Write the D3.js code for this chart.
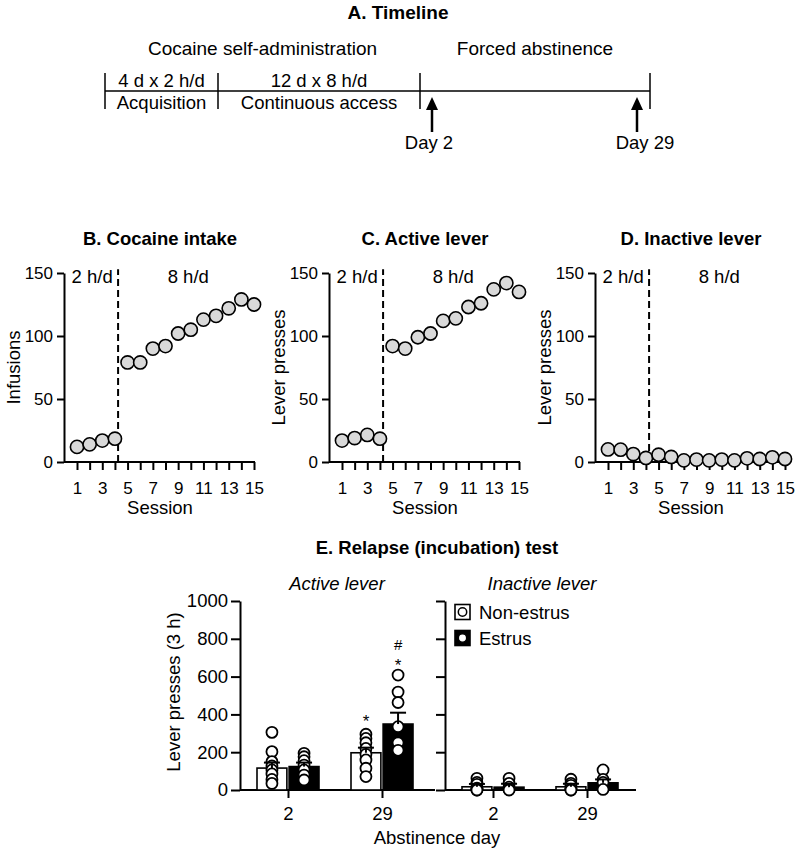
<!DOCTYPE html>
<html>
<head>
<meta charset="utf-8">
<script src="https://cdn.jsdelivr.net/npm/d3@7"></script>
<style>
    body { margin: 0; background: #fff; }
    svg text { font-family: "Liberation Sans", Arial, sans-serif; fill: #000; }
    .axis path, .axis line { stroke: #000; stroke-width: 2px; }
</style>
</head>
<body>
<svg id="fig" width="800" height="853"></svg>
<script>
// ---- data: self-administration sessions (panels B-D)
const sessions = [1, 2, 3, 4, 5, 6, 7, 8, 9, 10, 11, 12, 13, 14, 15];
const sessionLabels = [1, 3, 5, 7, 9, 11, 13, 15];
const sessionYTicks = [0, 50, 100, 150];
const cocaineIntake = [12, 14, 17, 18.5, 79, 79, 90, 92, 102, 105, 113, 116, 122, 129, 125];
const activeLever = [17, 19, 21.5, 18.5, 92, 90, 99, 102, 112, 114, 123, 126, 137, 142, 135];
const inactiveLever = [10, 9.8, 6.3, 3.2, 5.8, 4, 1.3, 1.9, 1.3, 1.9, 1.3, 2.9, 2.4, 3.7, 2.4];
const accessLabels = ['2 h/d', '8 h/d'];
const accessLabelSession = [2.2, 9.8];
const accessSwitch = 4.25;

// ---- data: relapse test (panel E), order = abstinence days
const days = [2, 29];
const groups = ['Non-estrus', 'Estrus'];
const relapseYTicks = [0, 200, 400, 600, 800, 1000];
const activeMeanNon = [116, 197];
const activeMeanEst = [124, 349];
const activeSemNon = [29, 27];
const activeSemEst = [21, 60];
const activePointsNon = [
    [305, 203, 150, 127, 106, 85, 56, 35],
    [295, 273, 250, 220, 189, 159, 115, 71]
];
const activePointsEst = [
    [194, 176, 155, 132, 106, 79, 53],
    [608, 518, 463, 335, 250, 210]
];
const inactiveMeanNon = [17, 17];
const inactiveMeanEst = [15, 38];
const inactiveSemNon = [15, 16];
const inactiveSemEst = [18, 18];
const inactivePointsNon = [
    [62, 40, 30, 10, 3, 0, 0],
    [57, 35, 25, 5, 0, 0]
];
const inactivePointsEst = [
    [62, 35, 15, 3, 0],
    [106, 56, 40, 3]
];
// significance marks: [day, group, symbol, baseline value]
const sigMarks = [
    [29, 'Non-estrus', '*', 333],
    [29, 'Estrus', '*', 630],
    [29, 'Estrus', '#', 740]
];

const svg = d3.select('#fig');

function text(g, x, y, str, size, opts = {}) {
    return g.append('text')
        .attr('x', x)
        .attr('y', y)
        .attr('text-anchor', opts.anchor || 'middle')
        .attr('font-size', size)
        .attr('font-weight', opts.bold ? 'bold' : null)
        .attr('font-style', opts.italic ? 'italic' : null)
        .text(str);
}

// ================= A. Timeline =================
const tl = svg.append('g');
const tlY = 91;
const tlEdges = [105, 218, 420, 650];
text(tl, 398, 19, 'A. Timeline', 19, { bold: true });
text(tl, (tlEdges[0] + tlEdges[2]) / 2, 55, 'Cocaine self-administration', 19);
text(tl, (tlEdges[2] + tlEdges[3]) / 2, 55, 'Forced abstinence', 19);
tl.append('line')
    .attr('x1', tlEdges[0]).attr('x2', tlEdges[3])
    .attr('y1', tlY).attr('y2', tlY)
    .attr('stroke', '#000').attr('stroke-width', 1.5);
tlEdges.forEach(x => {
    tl.append('line')
        .attr('x1', x).attr('x2', x)
        .attr('y1', 73).attr('y2', 109)
        .attr('stroke', '#000').attr('stroke-width', 1.5);
});
const phases = [['4 d x 2 h/d', 'Acquisition'], ['12 d x 8 h/d', 'Continuous access']];
phases.forEach((p, i) => {
    const cx = (tlEdges[i] + tlEdges[i + 1]) / 2;
    text(tl, cx, 87, p[0], 18.5);
    text(tl, cx, 109, p[1], 18.5);
});
[[432, 'Day 2', 429], [637, 'Day 29', 645]].forEach(a => {
    tl.append('line')
        .attr('x1', a[0]).attr('x2', a[0])
        .attr('y1', 107).attr('y2', 132)
        .attr('stroke', '#000').attr('stroke-width', 2.5);
    tl.append('path')
        .attr('d', `M${a[0]},97 L${a[0] + 6},110 L${a[0] - 6},110 Z`)
        .attr('fill', '#000');
    text(tl, a[2], 149, a[1], 18.5);
});

// ================= B-D. Session panels =================
function sessionPanel(left, title, yLabel, values) {
    const g = svg.append('g');
    const x = d3.scaleLinear().domain([1, 15]).range([left + 13, left + 190]);
    const y = d3.scaleLinear().domain([0, 150]).range([462, 273]);

    text(g, left + 96, 245, title, 18.5, { bold: true });

    const ya = g.append('g')
        .attr('class', 'axis')
        .attr('transform', `translate(${left},0)`)
        .call(d3.axisLeft(y).tickValues(sessionYTicks).tickSize(7).tickSizeOuter(0).tickPadding(4));
    ya.attr('font-family', null).attr('font-size', 17);

    const xa = g.append('g')
        .attr('class', 'axis')
        .attr('transform', 'translate(0,462)')
        .call(d3.axisBottom(x).tickValues(sessions).tickSize(8).tickPadding(12)
            .tickFormat(d => sessionLabels.includes(d) ? d : ''));
    xa.attr('font-family', null).attr('font-size', 17);
    xa.select('.domain').remove();
    g.append('line')
        .attr('x1', left).attr('x2', left + 191)
        .attr('y1', 462).attr('y2', 462)
        .attr('stroke', '#000').attr('stroke-width', 2);

    g.append('text')
        .attr('transform', `translate(${left - 44},${(y(0) + y(150)) / 2}) rotate(-90)`)
        .attr('text-anchor', 'middle')
        .attr('font-size', 18.5)
        .text(yLabel);
    text(g, left + 96, 514, 'Session', 18.5);

    g.append('line')
        .attr('x1', x(accessSwitch)).attr('x2', x(accessSwitch))
        .attr('y1', y(0)).attr('y2', y(153))
        .attr('stroke', '#000').attr('stroke-width', 2)
        .attr('stroke-dasharray', '7,4');
    accessLabels.forEach((lab, i) => {
        text(g, x(accessLabelSession[i]), y(147) + 6, lab, 18.5);
    });

    g.selectAll('circle.pt')
        .data(values)
        .join('circle')
        .attr('class', 'pt')
        .attr('cx', (d, i) => x(sessions[i]))
        .attr('cy', d => y(d))
        .attr('r', 6.6)
        .attr('fill', '#d9d9d9')
        .attr('stroke', '#000')
        .attr('stroke-width', 1.6);
}

sessionPanel(64, 'B. Cocaine intake', 'Infusions', cocaineIntake);
sessionPanel(329, 'C. Active lever', 'Lever presses', activeLever);
sessionPanel(595, 'D. Inactive lever', 'Lever presses', inactiveLever);

// ================= E. Relapse test =================
text(svg, 437, 554, 'E. Relapse (incubation) test', 18.5, { bold: true });
const yE = d3.scaleLinear().domain([0, 1000]).range([790, 601]);

function relapsePanel(left, width, subtitle, meanNon, meanEst, semNon, semEst, ptsNon, ptsEst, first) {
    const g = svg.append('g');
    const x = d3.scalePoint().domain(days).range([left + 48, left + 142]);
    const xs = d3.scaleBand().domain(groups).range([-31, 31]).paddingInner(0.07);

    text(g, left + 97, 590, subtitle, 18.5, { italic: true });

    const ya = g.append('g')
        .attr('class', 'axis')
        .attr('transform', `translate(${left},0)`)
        .call(d3.axisLeft(yE).tickValues(relapseYTicks).tickSize(9).tickSizeOuter(0).tickPadding(3)
            .tickFormat(first ? d3.format('d') : () => ''));
    ya.attr('font-family', null).attr('font-size', 18.5);

    const xa = g.append('g')
        .attr('class', 'axis')
        .attr('transform', 'translate(0,790)')
        .call(d3.axisBottom(x).tickSize(8).tickPadding(9));
    xa.attr('font-family', null).attr('font-size', 18.5);
    xa.select('.domain').remove();
    g.append('line')
        .attr('x1', left).attr('x2', left + width)
        .attr('y1', 790).attr('y2', 790)
        .attr('stroke', '#000').attr('stroke-width', 2);

    const rows = [];
    days.forEach((day, i) => {
        rows.push({ day, group: groups[0], mean: meanNon[i], sem: semNon[i], pts: ptsNon[i] });
        rows.push({ day, group: groups[1], mean: meanEst[i], sem: semEst[i], pts: ptsEst[i] });
    });
    const cx = d => x(d.day) + xs(d.group) + xs.bandwidth() / 2;

    g.selectAll('rect.bar')
        .data(rows)
        .join('rect')
        .attr('class', 'bar')
        .attr('x', d => x(d.day) + xs(d.group))
        .attr('width', xs.bandwidth())
        .attr('y', d => yE(d.mean))
        .attr('height', d => yE(0) - yE(d.mean))
        .attr('fill', d => d.group === 'Estrus' ? '#000' : '#fff')
        .attr('stroke', '#000')
        .attr('stroke-width', 1.6);

    rows.forEach(d => {
        g.selectAll(null)
            .data(d.pts)
            .join('circle')
            .attr('cx', cx(d))
            .attr('cy', v => yE(v))
            .attr('r', 5.5)
            .attr('fill', '#fff')
            .attr('stroke', '#000')
            .attr('stroke-width', 1.8);
    });

    rows.forEach(d => {
        const top = yE(d.mean + d.sem);
        g.append('line')
            .attr('x1', cx(d)).attr('x2', cx(d))
            .attr('y1', yE(d.mean)).attr('y2', top)
            .attr('stroke', '#000').attr('stroke-width', 2);
        g.append('line')
            .attr('x1', cx(d) - 8).attr('x2', cx(d) + 8)
            .attr('y1', top).attr('y2', top)
            .attr('stroke', '#000').attr('stroke-width', 2);
    });

    if (first) {
        sigMarks.forEach(m => {
            const d = rows.find(r => r.day === m[0] && r.group === m[1]);
            text(g, cx(d), yE(m[3]), m[2], m[2] === '#' ? 15 : 17);
        });
        g.append('text')
            .attr('transform', `translate(${left - 60},692) rotate(-90)`)
            .attr('text-anchor', 'middle')
            .attr('font-size', 18.5)
            .text('Lever presses (3 h)');
    }
    return g;
}

relapsePanel(240, 195, 'Active lever', activeMeanNon, activeMeanEst, activeSemNon, activeSemEst,
    activePointsNon, activePointsEst, true);
const inact = relapsePanel(445, 191, 'Inactive lever', inactiveMeanNon, inactiveMeanEst, inactiveSemNon, inactiveSemEst,
    inactivePointsNon, inactivePointsEst, false);

text(svg, 437, 844, 'Abstinence day', 18.5);

// legend
groups.forEach((grp, i) => {
    const ly = 612 + i * 26;
    const lg = inact.append('g').attr('transform', `translate(455,${ly - 7.5})`);
    lg.append('rect')
        .attr('width', 15).attr('height', 15)
        .attr('fill', grp === 'Estrus' ? '#000' : '#fff')
        .attr('stroke', '#000').attr('stroke-width', 1.6);
    lg.append('circle')
        .attr('cx', 7.5).attr('cy', 7.5).attr('r', 4.2)
        .attr('fill', '#fff').attr('stroke', '#000').attr('stroke-width', 1.5);
    text(inact, 479, ly + 6.5, grp, 18.5, { anchor: 'start' });
});
</script>
</body>
</html>
